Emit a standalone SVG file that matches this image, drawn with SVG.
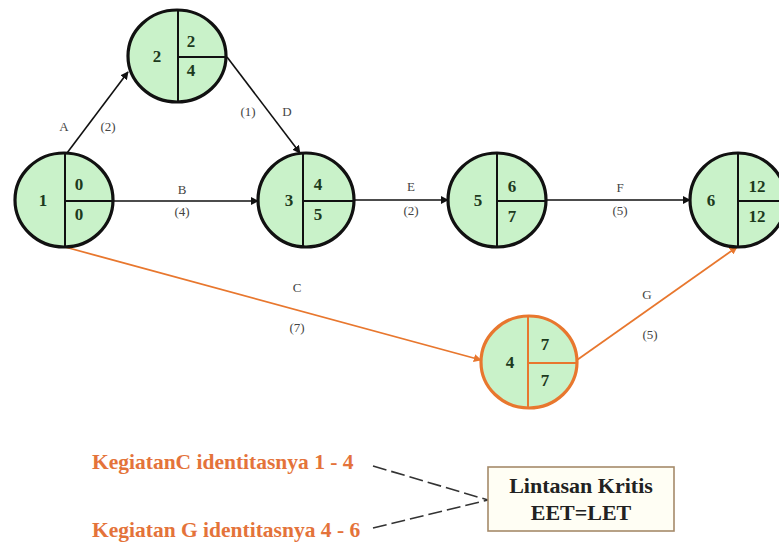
<svg xmlns="http://www.w3.org/2000/svg" width="779" height="545" viewBox="0 0 779 545">
<defs>
<marker id="ah" viewBox="0 0 10 10" refX="9" refY="5" markerWidth="8" markerHeight="8" markerUnits="userSpaceOnUse" orient="auto"><path d="M0,0 L10,5 L0,10 Z" fill="#111"/></marker>
<marker id="aho" viewBox="0 0 10 10" refX="9" refY="5" markerWidth="8" markerHeight="8" markerUnits="userSpaceOnUse" orient="auto"><path d="M0,0 L10,5 L0,10 Z" fill="#e8772e"/></marker>
<style>
.node ellipse{fill:#c9f2c9;stroke:#111;stroke-width:3.2}
.node line{stroke:#111;stroke-width:2}
.crit ellipse{stroke:#e8772e}
.crit line{stroke:#e8772e}
text{font-family:"Liberation Serif","Times New Roman","DejaVu Serif",serif}
.num{font-weight:bold;font-size:17px;fill:#1d3a1d;text-anchor:middle}
.lbl{font-size:13px;fill:#444;text-anchor:middle}
.edge{stroke:#111;stroke-width:1.6;fill:none}
.cedge{stroke:#e8772e;stroke-width:1.8;fill:none}
.note{font-weight:bold;font-size:21.5px;fill:#e4733a}
.box{font-weight:bold;font-size:22px;fill:#222;text-anchor:middle}
</style>
</defs>
<rect width="779" height="545" fill="#ffffff"/>
<g id="connectors">
<line class="edge" x1="67" y1="153" x2="128" y2="72" marker-end="url(#ah)"/>
<line class="edge" x1="227" y1="57" x2="300" y2="153" marker-end="url(#ah)"/>
<line class="edge" x1="113" y1="201" x2="258" y2="201" marker-end="url(#ah)"/>
<line class="edge" x1="354" y1="200" x2="448" y2="200" marker-end="url(#ah)"/>
<line class="edge" x1="546" y1="200" x2="690" y2="200" marker-end="url(#ah)"/>
<line class="cedge" x1="65" y1="247" x2="481" y2="360" marker-end="url(#aho)"/>
<line class="cedge" x1="577" y1="360" x2="737" y2="247" marker-end="url(#aho)"/>
<text class="lbl" x="64" y="131">A</text>
<text class="lbl" x="108" y="131">(2)</text>
<text class="lbl" x="248" y="116">(1)</text>
<text class="lbl" x="287" y="116">D</text>
<text class="lbl" x="182" y="194">B</text>
<text class="lbl" x="182" y="216">(4)</text>
<text class="lbl" x="411" y="191">E</text>
<text class="lbl" x="411" y="215">(2)</text>
<text class="lbl" x="620" y="192">F</text>
<text class="lbl" x="620" y="215">(5)</text>
<text class="lbl" x="297" y="292">C</text>
<text class="lbl" x="297" y="332">(7)</text>
<text class="lbl" x="647" y="299">G</text>
<text class="lbl" x="650" y="339">(5)</text>
<line x1="373" y1="466" x2="488" y2="500" stroke="#333" stroke-width="1.6" stroke-dasharray="14,5"/>
<line x1="373" y1="528" x2="488" y2="500" stroke="#333" stroke-width="1.6" stroke-dasharray="14,5"/>
</g>
<g id="node1" class="node">
<ellipse cx="64" cy="200" rx="49" ry="47"/>
<line x1="65" y1="153" x2="65" y2="247"/><line x1="65" y1="201" x2="113" y2="201"/>
<text class="num" x="43" y="206">1</text><text class="num" x="79" y="190">0</text><text class="num" x="79" y="220">0</text>
</g>
<g id="node2" class="node">
<ellipse cx="177" cy="56" rx="49" ry="46"/>
<line x1="178" y1="10" x2="178" y2="102"/><line x1="178" y1="57" x2="226" y2="57"/>
<text class="num" x="157" y="62">2</text><text class="num" x="191" y="47">2</text><text class="num" x="191" y="76">4</text>
</g>
<g id="node3" class="node">
<ellipse cx="306" cy="200" rx="48" ry="47"/>
<line x1="303" y1="153" x2="303" y2="247"/><line x1="303" y1="201" x2="354" y2="201"/>
<text class="num" x="289" y="206">3</text><text class="num" x="318" y="190">4</text><text class="num" x="318" y="220">5</text>
</g>
<g id="node5" class="node">
<ellipse cx="497" cy="200" rx="49" ry="47"/>
<line x1="497" y1="153" x2="497" y2="247"/><line x1="497" y1="201" x2="546" y2="201"/>
<text class="num" x="478" y="206">5</text><text class="num" x="512" y="192">6</text><text class="num" x="512" y="222">7</text>
</g>
<g id="node6" class="node">
<ellipse cx="738" cy="200" rx="48" ry="47"/>
<line x1="738" y1="153" x2="738" y2="247"/><line x1="738" y1="201" x2="786" y2="201"/>
<text class="num" x="711" y="206">6</text><text class="num" x="757" y="192">12</text><text class="num" x="757" y="222">12</text>
</g>
<g id="node4" class="node crit">
<ellipse cx="529" cy="362" rx="48" ry="46"/>
<line x1="528" y1="316" x2="528" y2="408"/><line x1="528" y1="363" x2="577" y2="363"/>
<text class="num" x="510" y="368">4</text><text class="num" x="545" y="350">7</text><text class="num" x="545" y="386">7</text>
</g>
<g id="note1"><text class="note" x="92" y="469">KegiatanC identitasnya 1 - 4</text></g>
<g id="note2"><text class="note" x="92" y="537">Kegiatan G identitasnya 4 - 6</text></g>
<g id="critbox">
<rect x="488" y="467" width="186" height="64" fill="#fffef4" stroke="#a58a6a" stroke-width="1.6"/>
<text class="box" x="581" y="493">Lintasan Kritis</text>
<text class="box" x="581" y="520">EET=LET</text>
</g>
</svg>
